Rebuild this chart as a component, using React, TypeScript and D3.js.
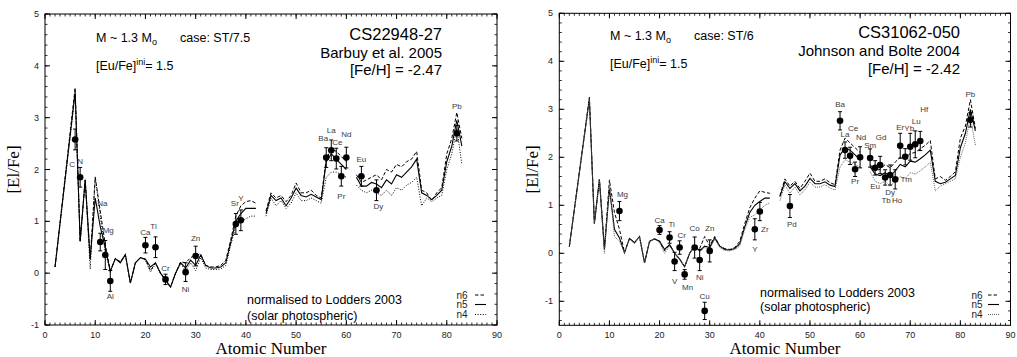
import React from 'react';
import * as d3 from 'd3';

// ---------- DATA ----------
const modelZ = [2,
  6,7,8,9,10,11,12,13,14,15,
  16,17,18,19,20,21,22,23,24,25,
  26,27,28,29,30,31,32,33,34,35,
  36,37,38,39,40,41,42,43,44,45,
  46,47,48,49,50,51,52,53,54,55,
  56,57,58,59,60,61,62,63,64,65,
  66,67,68,69,70,71,72,73,74,75,
  76,77,78,79,80,81,82,83];

const leftN6 = [0.12,
  3.58,0.6,1.8,0.25,1.85,1.2,0.55,0.05,0.28,0.22,
  0.36,-0.19,0.2,0.3,0.27,0.05,0.2,0.0,-0.13,-0.27,
  0,0.22,0.2,0.3,0.35,0.37,0.15,0.12,0.12,0.15,
  0.25,0.65,1.1,1.3,1.38,1.4,1.35,null,1.2,1.55,
  1.45,1.5,1.38,1.5,1.74,1.55,1.55,1.6,1.5,1.45,
  2.2,2.4,2.35,2.25,2.15,null,1.9,1.75,1.8,1.85,
  1.9,1.8,2.0,1.95,2.1,2.05,2.15,2.2,2.35,1.6,
  1.55,1.4,1.55,1.65,2.3,2.6,3.1,2.6];
const leftN5 = [0.12,
  3.5,0.62,1.8,0.28,1.45,0.9,0.5,0.03,0.28,0.2,
  0.36,-0.19,0.2,0.3,0.27,0.12,0.2,0.0,-0.13,-0.27,
  0,0.2,0.1,0.25,0.15,0.35,0.15,0.1,0.1,0.12,
  0.2,0.6,1.0,1.15,1.25,1.25,1.25,null,1.15,1.5,
  1.4,1.45,1.3,1.45,1.64,1.5,1.47,1.52,1.47,1.42,
  2.15,2.3,2.2,2.1,2.0,null,1.85,1.68,1.68,1.75,
  1.72,1.65,1.8,1.72,1.9,1.85,1.95,2.05,2.2,1.55,
  1.5,1.42,1.5,1.6,2.15,2.45,2.95,2.45];
const leftN4 = [0.12,
  3.45,0.62,1.78,0.08,1.86,1.1,0.4,0.05,0.27,0.22,
  0.35,-0.19,0.2,0.3,0.25,0.02,0.18,0.0,-0.15,-0.27,
  0,0.18,0.05,0.2,0.05,0.3,0.1,0.07,0.07,0.08,
  0.15,0.55,0.9,1.0,1.05,1.1,1.1,null,1.1,1.45,
  1.3,1.4,1.25,1.35,1.55,1.4,1.4,1.45,1.4,1.35,
  1.85,1.95,1.95,1.9,1.85,null,1.7,1.6,1.55,1.6,
  1.55,1.5,1.6,1.5,1.65,1.6,1.7,1.75,1.85,1.3,
  1.45,1.38,1.45,1.5,2.0,2.3,2.8,2.1];

const rightN6 = [0.14,
  3.25,0.62,1.54,0.1,1.53,0.85,0.5,0.02,0.31,0.22,
  0.35,-0.2,0.25,0.3,0.25,0.05,0.18,0.0,-0.12,-0.28,
  0,0.17,0.1,0.35,0.15,0.35,0.15,0.1,0.08,0.12,
  0.25,0.62,0.95,1.15,1.3,1.27,1.25,null,1.2,1.55,
  1.4,1.5,1.35,1.5,1.67,1.5,1.5,1.55,1.47,1.43,
  2.15,2.4,2.3,2.2,2.1,null,1.85,1.72,1.75,1.85,
  1.78,1.9,2.0,1.98,2.08,2.1,2.18,2.25,2.35,1.55,
  1.6,1.52,1.6,1.7,2.4,2.65,3.2,2.6];
const rightN5 = [0.14,
  3.22,0.62,1.54,0.08,1.35,0.5,0.32,0.01,0.31,0.22,
  0.35,-0.2,0.25,0.3,0.25,0.08,0.18,0.0,-0.12,-0.28,
  0,0.15,0.05,0.15,0.12,0.32,0.15,0.08,0.07,0.1,
  0.2,0.55,0.85,1.0,1.08,1.15,1.15,null,1.18,1.49,
  1.35,1.45,1.3,1.4,1.56,1.45,1.45,1.49,1.42,1.39,
  2.05,2.2,2.15,2.05,1.95,null,1.8,1.65,1.62,1.68,
  1.6,1.72,1.85,1.8,1.92,1.9,1.97,2.05,2.15,1.5,
  1.45,1.48,1.55,1.62,2.2,2.5,3.0,2.55];
const rightN4 = [0.14,
  3.2,0.62,1.54,0.0,1.45,0.35,0.25,0.01,0.3,0.2,
  0.35,-0.2,0.25,0.3,0.22,0.0,0.15,0.0,-0.13,-0.28,
  0,0.14,0.03,0.12,0.08,0.3,0.12,0.06,0.05,0.08,
  0.15,0.5,0.75,0.8,0.9,1.0,1.05,null,1.1,1.42,
  1.25,1.38,1.22,1.32,1.48,1.38,1.38,1.43,1.36,1.32,
  1.8,1.95,1.9,1.85,1.8,null,1.7,1.5,1.45,1.5,
  1.4,1.5,1.6,1.55,1.68,1.65,1.72,1.8,1.9,1.3,
  1.4,1.45,1.5,1.55,2.0,2.3,2.85,2.25];

// observed abundances, CS22948-27 (Barbuy et al. 2005)
const leftEl  = ['C','N','Na','Mg','Al','Ca','Ti','Cr','Ni','Zn','Sr','Y','Ba','La','Ce','Pr','Nd','Eu','Dy','Pb'];
const leftZ   = [6,7,11,12,13,20,22,24,28,30,38,39,56,57,58,59,60,63,66,82];
const leftVal = [2.58,1.85,0.6,0.35,-0.15,0.54,0.5,-0.12,0.02,0.33,0.95,1.02,2.23,2.37,2.21,1.87,2.23,1.87,1.6,2.7];
const leftErr = [0.2,0.19,0.17,0.28,0.2,0.15,0.2,0.1,0.18,0.19,0.2,0.2,0.19,0.2,0.2,0.19,0.2,0.19,0.2,0.15];

// observed abundances, CS31062-050 (Johnson and Bolte 2004)
const rightEl  = ['Mg','Ca','Ti','V','Cr','Mn','Co','Ni','Cu','Zn','Y','Zr','Pd','Ba','La','Ce','Pr','Nd','Sm','Eu','Gd','Tb','Dy','Ho','Er','Tm','Yb','Lu','Hf','Pb'];
const rightZ   = [12,20,22,23,24,25,27,28,29,30,39,40,46,56,57,58,59,60,62,63,64,65,66,67,68,69,70,71,72,82];
const rightVal = [0.88,0.485,0.33,-0.17,0.12,-0.44,0.12,-0.14,-1.2,0.05,0.5,0.87,0.985,2.76,2.15,2.03,1.75,2.0,1.985,1.78,1.84,1.58,1.63,1.54,2.24,2.01,2.22,2.27,2.34,2.78];
const rightErr = [0.2,0.09,0.12,0.19,0.14,0.1,0.22,0.22,0.18,0.23,0.22,0.19,0.24,0.19,0.17,0.18,0.15,0.22,0.19,0.15,0.18,0.16,0.21,0.2,0.26,0.17,0.28,0.28,0.2,0.15];

const xTickLabels = ['0','10','20','30','40','50','60','70','80','90'];
const yTickLabels = ['-1','0','1','2','3','4','5'];
const legendNames = ['n6','n5','n4'];

// ---------- LAYOUT (pixel offsets of element labels) ----------
const leftLabelOff: [number, number][] = [[-3,25],[0,-16],[2,-39],[3,-25],[0,16],[0,-13],[-2,-21],[0,-11],[0,17],[0,-18],[-1,-20],[0,-22],[-3,-19],[0,-20],[1,-16],[0,20],[0,-23],[0,-17],[2,16],[0,-27]];
const rightLabelOff: [number, number][] = [[3,-17],[0,-10],[2,-13],[0,20],[2,-12],[3,13],[0,-19],[0,17],[0,-14],[0,-22],[0,20],[5,18],[2,18],[0,-16],[0,-16],[3,-27],[0,12],[1,-20],[0,-13],[0,19],[1,-27],[1,23],[0,17],[2,21],[0,-18],[1,23],[-1,-18],[1,-23],[4,-31],[0,-25]];

const SANS = '"Liberation Sans", Arial, Helvetica, sans-serif';
const SERIF = '"Liberation Serif", "Times New Roman", serif';

interface PanelCfg {
  x0: number; x1: number; yTop: number; yBot: number; yMin: number;
  n6: (number | null)[]; n5: (number | null)[]; n4: (number | null)[];
  n4Color: string; n4Dash: string;
  el: string[]; z: number[]; val: number[]; err: number[]; off: [number, number][];
  case: string; star: string; ref: string; feh: string;
  textX: number; caseX: number; rightX: number;
  line1Y: number; line2Y: number; starY: number; refY: number; fehY: number;
  normX: number; normY1: number; normY2: number;
  legX: number; legLineX0: number; legLineX1: number; legY: number[];
  yLabelX: number; yTickX: number;
}

function Panel({ c }: { c: PanelCfg }) {
  const x = d3.scaleLinear().domain([0, 90]).range([c.x0, c.x1]);
  const y = d3.scaleLinear().domain([c.yMin, 5]).range([c.yBot, c.yTop]);
  const mk = (arr: (number | null)[]) =>
    d3.line<number | null>()
      .defined((d) => d !== null)
      .x((_, i) => x(modelZ[i]))
      .y((d) => y(d as number))(arr) || '';

  const xMajor = d3.range(0, 91, 10);
  const xMinor = d3.range(0, 91, 1);
  const yMajor = d3.range(-1, 6, 1);
  const yMinor = d3.range(Math.round(c.yMin * 5), 26).map((v) => v / 5);
  const maj = 5, mnr = 2.5;
  const styles = [
    { dash: '3.5,2', color: '#000', w: 1 },
    { dash: 'none', color: '#000', w: 1.1 },
    { dash: c.n4Dash, color: c.n4Color, w: 1 },
  ];
  const series = [c.n6, c.n5, c.n4];
  const midY = (c.yTop + c.yBot) / 2;
  return (
    <g>
      {series.map((s, i) => (
        <path key={i} d={mk(s)} fill="none" stroke={styles[i].color} strokeWidth={styles[i].w}
          strokeDasharray={styles[i].dash} strokeLinejoin="miter" />
      ))}
      {c.z.map((zz, i) => {
        const px = x(zz), py = y(c.val[i]);
        const yt = y(c.val[i] + c.err[i]), yb = y(c.val[i] - c.err[i]);
        return (
          <g key={i}>
            <line x1={px} x2={px} y1={yt} y2={yb} stroke="#000" strokeWidth={1} />
            <line x1={px - 2} x2={px + 2} y1={yt} y2={yt} stroke="#000" strokeWidth={1} />
            <line x1={px - 2} x2={px + 2} y1={yb} y2={yb} stroke="#000" strokeWidth={1} />
            <circle cx={px} cy={py} r={3.3} fill="#000" />
            <text x={px + c.off[i][0]} y={py + c.off[i][1]} fontSize={8} fontFamily={SANS}
              fill="#3a3a3a" textAnchor="middle" dominantBaseline="central">{c.el[i]}</text>
          </g>
        );
      })}
      <rect x={c.x0} y={c.yTop} width={c.x1 - c.x0} height={c.yBot - c.yTop} fill="none" stroke="#000" strokeWidth={1} />
      {xMinor.map((t) => (
        <g key={'xm' + t}>
          <line x1={x(t)} x2={x(t)} y1={c.yBot} y2={c.yBot - mnr} stroke="#000" strokeWidth={0.8} />
          <line x1={x(t)} x2={x(t)} y1={c.yTop} y2={c.yTop + mnr} stroke="#000" strokeWidth={0.8} />
        </g>
      ))}
      {xMajor.map((t, i) => (
        <g key={'xM' + t}>
          <line x1={x(t)} x2={x(t)} y1={c.yBot} y2={c.yBot - maj} stroke="#000" strokeWidth={1} />
          <line x1={x(t)} x2={x(t)} y1={c.yTop} y2={c.yTop + maj} stroke="#000" strokeWidth={1} />
          <text x={x(t)} y={c.yBot + 10} fontSize={9} fontFamily={SANS} textAnchor="middle"
            dominantBaseline="central" fill="#222">{xTickLabels[i]}</text>
        </g>
      ))}
      {yMinor.map((t) => (
        <g key={'ym' + t}>
          <line x1={c.x0} x2={c.x0 + mnr} y1={y(t)} y2={y(t)} stroke="#000" strokeWidth={0.8} />
          <line x1={c.x1} x2={c.x1 - mnr} y1={y(t)} y2={y(t)} stroke="#000" strokeWidth={0.8} />
        </g>
      ))}
      {yMajor.map((t, i) => (
        <g key={'yM' + t}>
          <line x1={c.x0} x2={c.x0 + maj} y1={y(t)} y2={y(t)} stroke="#000" strokeWidth={1} />
          <line x1={c.x1} x2={c.x1 - maj} y1={y(t)} y2={y(t)} stroke="#000" strokeWidth={1} />
          <text x={c.yTickX} y={y(t)} fontSize={9} fontFamily={SANS} textAnchor="end"
            dominantBaseline="central" fill="#222">{yTickLabels[i]}</text>
        </g>
      ))}
      <text x={(c.x0 + c.x1) / 2} y={354} fontSize={17} fontFamily={SERIF} textAnchor="middle">Atomic Number</text>
      <text transform={`translate(${c.yLabelX},${midY}) rotate(-90)`} fontSize={17} fontFamily={SERIF}
        textAnchor="middle" dominantBaseline="central">[El/Fe]</text>
      <text x={c.textX} y={c.line1Y} fontSize={12.5} fontFamily={SANS}>
        M ~ 1.3 M<tspan fontSize={9} dy={3}>o</tspan>
        <tspan x={c.caseX} dy={-3}>{c.case}</tspan>
      </text>
      <text x={c.textX} y={c.line2Y} fontSize={12.5} fontFamily={SANS}>
        [Eu/Fe]<tspan fontSize={9} dy={-5}>ini</tspan><tspan dy={5}>= 1.5</tspan>
      </text>
      <text x={c.rightX} y={c.starY} fontSize={16.5} fontFamily={SANS} textAnchor="end">{c.star}</text>
      <text x={c.rightX} y={c.refY} fontSize={15} fontFamily={SANS} textAnchor="end">{c.ref}</text>
      <text x={c.rightX} y={c.fehY} fontSize={15} fontFamily={SANS} textAnchor="end">{c.feh}</text>
      <text x={c.normX} y={c.normY1} fontSize={12.5} fontFamily={SANS}>normalised to Lodders 2003</text>
      <text x={c.normX} y={c.normY2} fontSize={12.5} fontFamily={SANS}>(solar photospheric)</text>
      {legendNames.map((n, i) => (
        <g key={n}>
          <text x={c.legX} y={c.legY[i]} fontSize={10} fontFamily={SANS} fill="#222">{n}</text>
          <line x1={c.legLineX0} x2={c.legLineX1} y1={c.legY[i] - 3.5} y2={c.legY[i] - 3.5}
            stroke={styles[i].color} strokeWidth={styles[i].w} strokeDasharray={styles[i].dash} />
        </g>
      ))}
    </g>
  );
}

const leftCfg: PanelCfg = {
  x0: 45, x1: 497, yTop: 14, yBot: 325, yMin: -1,
  n6: leftN6, n5: leftN5, n4: leftN4, n4Color: '#000', n4Dash: '1,1.6',
  el: leftEl, z: leftZ, val: leftVal, err: leftErr, off: leftLabelOff,
  case: 'case: ST/7.5', star: 'CS22948-27', ref: 'Barbuy et al. 2005', feh: '[Fe/H] = -2.47',
  textX: 96, caseX: 180, rightX: 442, line1Y: 42, line2Y: 70, starY: 40, refY: 57.5, fehY: 74.5,
  normX: 247, normY1: 303.5, normY2: 320,
  legX: 456.5, legLineX0: 475, legLineX1: 486, legY: [298.5, 308, 318],
  yLabelX: 13, yTickX: 39,
};

const rightCfg: PanelCfg = {
  x0: 559.3, x1: 1010.5, yTop: 13.3, yBot: 325.3, yMin: -1.5,
  n6: rightN6, n5: rightN5, n4: rightN4, n4Color: '#666', n4Dash: '1,1',
  el: rightEl, z: rightZ, val: rightVal, err: rightErr, off: rightLabelOff,
  case: 'case: ST/6', star: 'CS31062-050', ref: 'Johnson and Bolte 2004', feh: '[Fe/H] = -2.42',
  textX: 610, caseX: 694, rightX: 960, line1Y: 40, line2Y: 68, starY: 37.5, refY: 55.5, fehY: 73.5,
  normX: 760, normY1: 297, normY2: 310.5,
  legX: 971.5, legLineX0: 988, legLineX1: 999, legY: [298.5, 308, 318],
  yLabelX: 532, yTickX: 553,
};

export default function App() {
  return (
    <svg width={1017} height={357} viewBox="0 0 1017 357"
      style={{ position: 'absolute', left: 0, top: 0, background: '#fff' }}>
      <rect x={0} y={0} width={1017} height={357} fill="#fff" />
      <Panel c={leftCfg} />
      <Panel c={rightCfg} />
    </svg>
  );
}
